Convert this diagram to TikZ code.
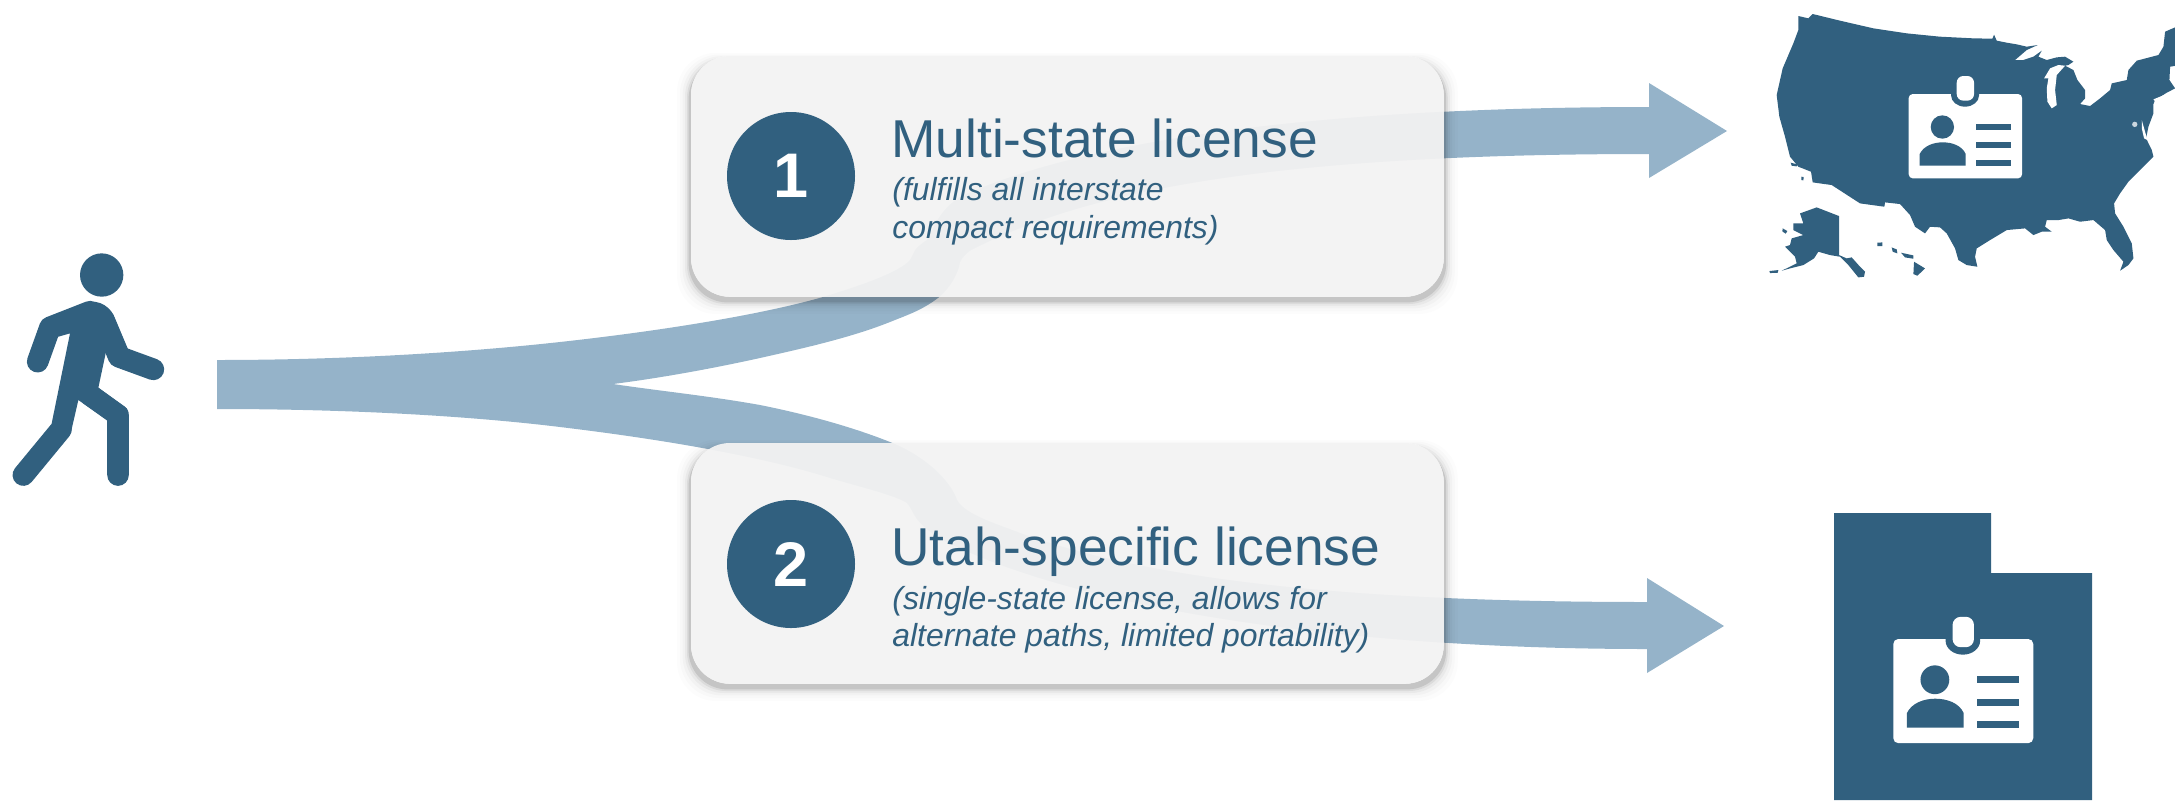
\documentclass[tikz,border=0pt]{standalone}
\usepackage{fontspec}
\setmainfont{Liberation Sans}
\definecolor{navy}{HTML}{31607F}
\definecolor{flow}{HTML}{95B3C9}
\definecolor{panel}{HTML}{F2F2F2}
\tikzset{
  panelbox/.style={minimum width=376pt,minimum height=120pt,inner sep=0pt,anchor=north west},
  numdisc/.style={circle,fill=navy,minimum size=64pt,inner sep=0pt,text=white,font=\fontsize{31.5}{31.5}\selectfont\bfseries},
  headtext/.style={anchor=base west,inner sep=0pt,text=navy,font=\fontsize{26.65}{26.65}\selectfont},
  subtext/.style={anchor=base west,inner sep=0pt,text=navy,font=\fontsize{15.95}{15.95}\selectfont\itshape},
  flowshape/.style={fill=flow},
  navyshape/.style={fill=navy},
  limb/.style={draw=navy,line width=10.8pt,line cap=round,line join=round}
}
\newcommand{\softpanel}[1]{%
  \begin{scope}[even odd rule,rounded corners=19.5pt]
  \clip (-20,-20) rectangle (2195,820) (#1.south west) rectangle (#1.north east);
  \foreach \e/\o in {7/.01,5.5/.014,4.2/.022,3/.035,2/.06,1.2/.1}{
    \fill[black,nonzero rule,fill opacity=\o]
      ([xshift=-\e pt,yshift=-1.6pt-\e pt]#1.south west) rectangle ([xshift=\e pt,yshift=.6*\e pt-2.6pt]#1.north east);
  }
  \end{scope}
  \fill[panel,fill opacity=.95,rounded corners=19.5pt] (#1.south west) rectangle (#1.north east);}
\newcommand{\idbadge}[3]{%
 \begin{scope}[shift={(#1,#2)},x=#3 pt,y=-#3 pt]
  \fill[white,rounded corners={12*#3 pt}] (0,0) rectangle (340,253);
  \fill[navy] (127,-1) -- (127,4) arc[start angle=180,end angle=360,radius=42,y radius=-34] -- (211,-1) -- cycle;
  \fill[white,rounded corners={20*#3 pt}] (144,-54) rectangle (196,20);
  \fill[navy] (101,99) circle[radius=35];
  \fill[navy] (33,215) -- (33,180) .. controls (45,155) and (75,145) .. (102,145) .. controls (130,145) and (160,155) .. (171,180) -- (171,215) -- cycle;
  \fill[navy] (203,90) rectangle (306,108);
  \fill[navy] (203,145) rectangle (306,163);
  \fill[navy] (203,199) rectangle (306,216);
 \end{scope}}
\begin{document}
\begin{tikzpicture}[x=.5pt,y=-.5pt]
\useasboundingbox (0,0) rectangle (2175,800);
% flow shapes
\fill[flowshape] (217,360) .. controls (340,360) and (460,353) .. (560,342)
  .. controls (660,331) and (760,315) .. (823,297)
  .. controls (860,286) and (900,272) .. (910,260)
  .. controls (915,252) and (912,250) .. (927,240)
  .. controls (935,225) and (940,210) .. (960,197)
  .. controls (1050,155) and (1250,107) .. (1649,107)
  -- (1649,83) -- (1727,131) -- (1649,178) -- (1649,154)
  .. controls (1250,154) and (1080,195) .. (971,250)
  .. controls (965,254) and (962,258) .. (960,262)
  .. controls (958,274) and (950,288) .. (938,298)
  .. controls (922,310) and (910,314) .. (890,322)
  .. controls (850,338) and (800,349) .. (760,358)
  .. controls (710,369) and (660,378) .. (613,384)
  .. controls (660,391) and (710,396) .. (760,405)
  .. controls (810,415) and (855,428) .. (890,442)
  .. controls (925,456) and (950,480) .. (957,500)
  .. controls (965,515) and (1000,525) .. (1020,533)
  .. controls (1150,580) and (1350,602) .. (1647,602)
  -- (1647,578) -- (1724,626) -- (1647,673) -- (1647,649)
  .. controls (1350,649) and (1080,610) .. (943,540)
  .. controls (912,522) and (915,512) .. (907,503)
  .. controls (895,495) and (860,487) .. (827,477)
  .. controls (760,456) and (660,439) .. (560,427)
  .. controls (470,416) and (350,409) .. (217,409) -- cycle;
% panels
\node[panelbox] (panelone) at (691,56) {};
\node[panelbox] (paneltwo) at (691,443) {};
\softpanel{panelone}
\softpanel{paneltwo}
\node[numdisc] (discone) at (791,176) {\raisebox{-1pt}{1}};
\node[numdisc] (disctwo) at (791,564) {\raisebox{-1pt}{2}};
\node[headtext] (headone) at (891,157) {Multi-state license};
\node[subtext] (suba) at (892,200) {(fulfills all interstate};
\node[subtext] (subb) at (892,238) {compact requirements)};
\node[headtext] (headtwo) at (891,565) {Utah-specific license};
\node[subtext] (subc) at (892,609) {(single-state license, allows for};
\node[subtext] (subd) at (892,646) {alternate paths, limited portability)};
% walker
\begin{scope}[shift={(0,240)},x=.1667pt,y=-.1667pt]
  \fill[navyshape] (305,105) circle[radius=65];
  \fill[navyshape] (255,188) .. controls (300,175) and (335,205) .. (345,235) -- (385,330) -- (318,335) -- (295,443) -- (380,505) -- (385,520) -- (322,540) -- (235,480) -- (212,580) -- (155,550) -- (210,280) -- (175,290) -- (135,240) -- cycle;
  \draw[limb] (113,365) -- (150,262) -- (270,215);
  \draw[limb] (310,238) -- (356,350) -- (460,388);
  \draw[limb] (70,705) -- (183,568);
  \draw[limb] (354,705) -- (354,525) -- (270,465);
\end{scope}
% map
\begin{scope}[shift={(1740,0)},x=.1667pt,y=-.1667pt]
  \clip (0,0) rectangle (1305,870);
  \fill[navyshape] (175,48) -- (205,55) -- (218,42) -- (300,62) -- (400,85) -- (500,100) -- (600,110) -- (700,115) -- (757,116) -- (762,104) -- (770,122) -- (800,128) -- (830,133) -- (860,140) -- (893,135)
   -- (860,150) -- (825,180) -- (850,180) -- (880,170) -- (905,152) -- (895,170) -- (920,180) -- (950,172) -- (975,170) -- (1000,185) -- (985,195) -- (975,197) -- (1000,210) -- (1012,240) -- (1035,270) -- (1035,295) -- (1020,312) -- (1050,318) -- (1080,295) -- (1110,270) -- (1115,250) -- (1160,240) -- (1165,210) -- (1190,182) -- (1255,165) -- (1270,140) -- (1275,95) -- (1305,82)
   -- (1320,82) -- (1320,195) -- (1290,200) -- (1288,240) -- (1305,265) -- (1280,278) -- (1245,300) -- (1240,312) -- (1240,340) -- (1225,380) -- (1218,415) -- (1235,450) -- (1240,470) -- (1220,490) -- (1190,520) -- (1165,545) -- (1140,580) -- (1122,610) -- (1125,640) -- (1150,680) -- (1175,730) -- (1180,775) -- (1165,795) -- (1140,812) -- (1150,785) -- (1120,750) -- (1100,720) -- (1095,690) -- (1060,660) -- (1020,665) -- (985,655) -- (955,660) -- (920,660) -- (915,680) -- (935,695) -- (905,695) -- (880,705) -- (855,685) -- (800,690) -- (750,720) -- (710,745) -- (705,770) -- (712,800) -- (680,795) -- (655,780) -- (645,745) -- (620,700) -- (600,682) -- (570,680) -- (555,700) -- (525,680) -- (510,645) -- (480,612) -- (435,607) -- (433,620) -- (360,610) -- (275,555) -- (218,547) -- (213,515) -- (175,500) -- (150,470) -- (135,410) -- (118,350) -- (110,285) -- (128,205) -- (160,130) -- (175,90) -- cycle;
  % lake michigan, bays
  \fill[white] (912,235) -- (930,205) -- (955,195) -- (975,197) -- (950,225) -- (945,270) -- (950,315) -- (935,325) -- (922,305) -- (920,265) -- (925,235) -- cycle;
  \fill[white] (1240,298) -- (1280,282) -- (1275,292) -- (1245,304) -- cycle;
  \fill[white] (1205,360) -- (1212,385) -- (1222,420) -- (1212,415) -- (1205,385) -- cycle;
  \fill[white!75!navy] (1184,373) circle[radius=8];
  % alaska
  \fill[navyshape] (180,640) -- (230,622) -- (297,648) -- (297,765) -- (320,775) -- (335,772) -- (360,800) -- (375,815) -- (372,830) -- (355,832) -- (325,795) -- (300,770) -- (270,765) -- (235,755) -- (222,775) -- (190,795) -- (150,805) -- (125,812) -- (170,790) -- (165,770) -- (135,740) -- (150,735) -- (155,715) -- (190,705) -- (160,690) -- (160,670) -- (190,670) -- cycle;
  % islands
  \fill[navyshape] (88,813) -- (115,810) -- (113,818) -- (90,819) -- cycle;
  \fill[navyshape] (128,685) -- (142,693) -- (137,701) -- (127,694) -- cycle;
  \fill[navyshape] (522,785) -- (555,805) -- (532,827) -- (520,822) -- cycle;
  \fill[navyshape] (483,758) -- (520,766) -- (520,776) -- (495,772) -- cycle;
  \fill[navyshape] (455,742) -- (470,748) -- (472,760) -- (458,755) -- cycle;
  \fill[navyshape] (412,728) -- (427,727) -- (427,738) -- (412,738) -- cycle;
  \fill[navyshape] (152,488) -- (172,493) -- (170,499) -- (155,497) -- cycle;
  \fill[navyshape] (184,530) -- (191,531) -- (190,541) -- (184,540) -- cycle;
\end{scope}
\idbadge{1908.7}{94}{.16667}
% utah
\fill[navyshape] (1834,513) -- (1991,513) -- (1991,573) -- (2092,573) -- (2092,800) -- (1834,800) -- cycle;
\idbadge{1893.3}{639}{.2058}
\end{tikzpicture}
\end{document}
